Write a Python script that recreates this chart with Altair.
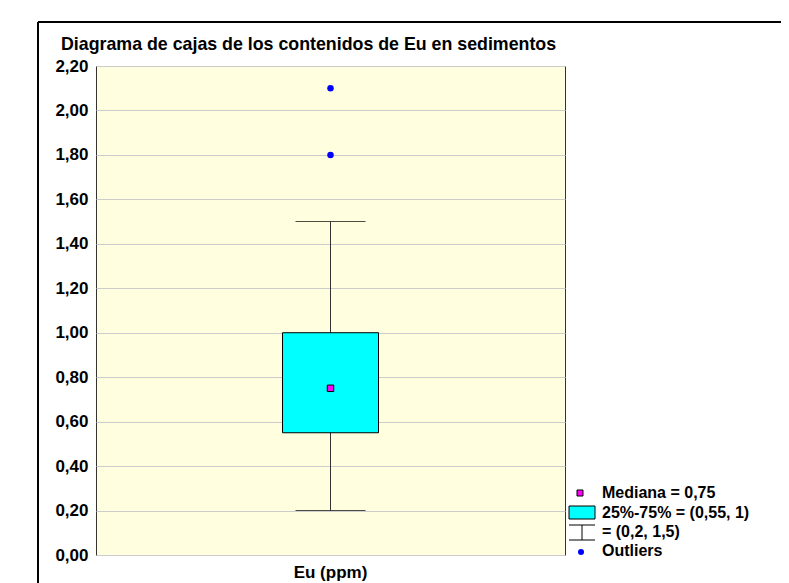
import altair as alt
import pandas as pd

# ---- data ----
category = ["Eu (ppm)"]
q1 = [0.55]
q3 = [1.0]
median = [0.75]
whisker_low = [0.2]
whisker_high = [1.5]
outliers = [1.8, 2.1]
y_ticks = [0.0, 0.2, 0.4, 0.6, 0.8, 1.0, 1.2, 1.4, 1.6, 1.8, 2.0, 2.2]
title_text = "Diagrama de cajas de los contenidos de Eu en sedimentos"
legend_labels = ["Mediana = 0,75", "25%-75% = (0,55, 1)", "= (0,2, 1,5)", "Outliers"]

FONT = "Liberation Sans"

box_df = pd.DataFrame({"cat": category, "q1": q1, "q3": q3, "med": median,
                       "lo": whisker_low, "hi": whisker_high})
out_df = pd.DataFrame({"cat": category * len(outliers), "v": outliers})
one = pd.DataFrame({"k": [0]})

x_enc = alt.X("cat:N", title=None,
              axis=alt.Axis(labelAngle=0, ticks=False, domain=False, labelFontWeight="bold",
                            labelFontSize=17, labelPadding=9, labelColor="black", labelFont=FONT))
y_scale = alt.Scale(domain=[0, 2.2], nice=False, zero=True)
y_axis = alt.Axis(values=y_ticks, labelExpr="replace(format(datum.value, '.2f'), '.', ',')",
                  ticks=False, domain=False, grid=True, gridColor="#CCCCCC", gridWidth=1,
                  labelFontWeight="bold", labelFontSize=17, labelPadding=8, labelColor="black",
                  labelFont=FONT)

base = alt.Chart(box_df)

whisker = base.mark_rule(color="#333333", strokeWidth=1).encode(
    x=x_enc, y=alt.Y("lo:Q", scale=y_scale, axis=y_axis, title=None), y2="hi:Q")
cap_lo = base.mark_tick(color="black", size=70, thickness=1).encode(x=x_enc, y="lo:Q")
cap_hi = base.mark_tick(color="black", size=70, thickness=1).encode(x=x_enc, y="hi:Q")
box = base.mark_bar(size=96, fill="#00FFFF", stroke="black", strokeWidth=1).encode(
    x=x_enc, y="q1:Q", y2="q3:Q")
med = base.mark_square(size=42, fill="#FF00FF", stroke="black", strokeWidth=1,
                       filled=True, opacity=1).encode(x=x_enc, y="med:Q")
outs = alt.Chart(out_df).mark_circle(size=42, color="#0000FF", opacity=1).encode(
    x=x_enc, y="v:Q")

# ---- decorations: frame, title, legend ----
oc = alt.Chart(one)
frame_top = oc.mark_rule(color="black", strokeWidth=2).encode(
    x=alt.value(-58), x2=alt.value(700), y=alt.value(-44))
frame_left = oc.mark_rule(color="black", strokeWidth=2).encode(
    x=alt.value(-58), y=alt.value(-44), y2=alt.value(520))
title = oc.mark_text(align="left", baseline="alphabetic", font=FONT, fontSize=17.8,
                     fontWeight="bold", color="black").encode(
    x=alt.value(-35), y=alt.value(-16), text=alt.value(title_text))

lg_font = dict(align="left", baseline="middle", font=FONT, fontSize=16,
               fontWeight="bold", color="black")
lg_sq = oc.mark_square(size=36, fill="#FF00FF", stroke="black", strokeWidth=1,
                       filled=True, opacity=1).encode(x=alt.value(484), y=alt.value(427))
lg_t1 = oc.mark_text(**lg_font).encode(x=alt.value(506), y=alt.value(427),
                                      text=alt.value(legend_labels[0]))
lg_rect = oc.mark_rect(fill="#00FFFF", stroke="black", strokeWidth=1).encode(
    x=alt.value(473), x2=alt.value(499), y=alt.value(440), y2=alt.value(453))
lg_t2 = oc.mark_text(**lg_font).encode(x=alt.value(506), y=alt.value(447),
                                      text=alt.value(legend_labels[1]))
lg_w1 = oc.mark_rule(color="black", strokeWidth=1).encode(
    x=alt.value(473), x2=alt.value(499), y=alt.value(459))
lg_w2 = oc.mark_rule(color="black", strokeWidth=1).encode(
    x=alt.value(473), x2=alt.value(499), y=alt.value(474))
lg_w3 = oc.mark_rule(color="black", strokeWidth=1).encode(
    x=alt.value(486), y=alt.value(459), y2=alt.value(474))
lg_t3 = oc.mark_text(**lg_font).encode(x=alt.value(506), y=alt.value(466),
                                      text=alt.value(legend_labels[2]))
lg_dot = oc.mark_circle(size=36, color="#0000FF", opacity=1).encode(
    x=alt.value(485), y=alt.value(486))
lg_t4 = oc.mark_text(**lg_font).encode(x=alt.value(506), y=alt.value(485),
                                      text=alt.value(legend_labels[3]))

chart = alt.layer(
    whisker, cap_lo, cap_hi, box, med, outs,
    frame_top, frame_left, title,
    lg_sq, lg_t1, lg_rect, lg_t2, lg_w1, lg_w2, lg_w3, lg_t3, lg_dot, lg_t4,
).properties(
    width=469, height=489,
    autosize=alt.AutoSizeParams(type="none"),
    padding={"left": 88, "top": 58, "right": 216, "bottom": 28},
).configure(
    background="white", font=FONT
).configure_view(
    fill="#FFFFE0", stroke="#333333", strokeWidth=1
)

chart.save("out.html", embed_options={"renderer": "svg", "actions": False})
